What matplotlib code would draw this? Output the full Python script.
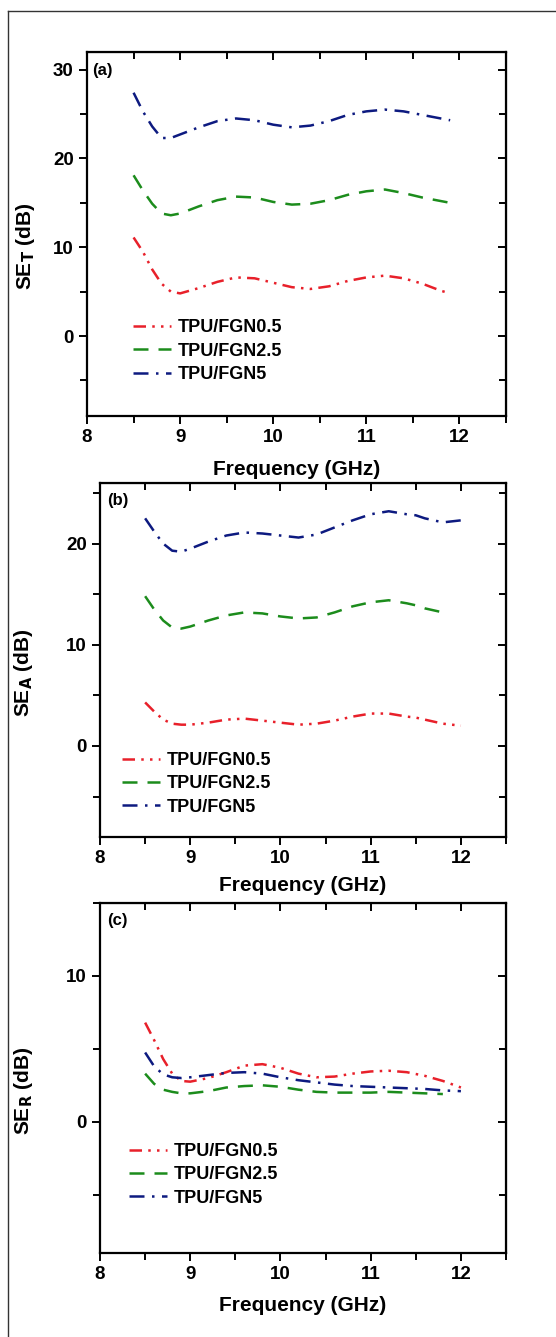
import numpy as np
import matplotlib
matplotlib.use('Agg')
import matplotlib.pyplot as plt
from matplotlib.lines import Line2D
from matplotlib.ticker import MultipleLocator

plt.rcParams['font.family'] = ['Liberation Sans', 'DejaVu Sans']
plt.rcParams['font.weight'] = 'bold'
plt.rcParams['mathtext.default'] = 'bf'

labels = ['TPU/FGN0.5', 'TPU/FGN2.5', 'TPU/FGN5']

# (a) total shielding
freq_a = [8.5, 8.6, 8.7, 8.8, 8.9, 9.0, 9.2, 9.4, 9.6, 9.8, 10.0, 10.2, 10.4,
          10.6, 10.8, 11.0, 11.2, 11.4, 11.6, 11.8, 11.9]
set_05 = [11.1, 9.5, 7.5, 5.9, 5.0, 4.8, 5.4, 6.1, 6.6, 6.5, 6.0, 5.5, 5.3,
          5.6, 6.2, 6.6, 6.8, 6.5, 5.9, 5.1, 4.8]
set_25 = [18.1, 16.4, 14.9, 13.8, 13.6, 13.8, 14.6, 15.3, 15.7, 15.6, 15.1, 14.8, 14.9,
          15.3, 15.9, 16.3, 16.5, 16.1, 15.6, 15.2, 15.0]
set_5 = [27.4, 25.3, 23.6, 22.3, 22.3, 22.7, 23.5, 24.2, 24.5, 24.3, 23.8, 23.5, 23.7,
         24.2, 24.9, 25.3, 25.5, 25.3, 24.9, 24.5, 24.3]

# (b) absorption
freq_b = [8.5, 8.6, 8.7, 8.8, 8.9, 9.0, 9.2, 9.4, 9.6, 9.8, 10.0, 10.2, 10.4,
          10.6, 10.8, 11.0, 11.2, 11.4, 11.5, 11.6, 11.8, 12.0]
sea_05 = [4.3, 3.4, 2.6, 2.2, 2.1, 2.1, 2.3, 2.6, 2.7, 2.5, 2.3, 2.1, 2.2,
          2.5, 2.9, 3.2, 3.2, 2.9, 2.8, 2.6, 2.2, 2.0]
sea_25 = [14.8, 13.5, 12.4, 11.7, 11.6, 11.8, 12.4, 12.9, 13.2, 13.1, 12.8, 12.6, 12.7,
          13.2, 13.8, 14.2, 14.4, 14.1, 13.9, 13.6, 13.2, np.nan]
sea_5 = [22.5, 21.2, 20.0, 19.3, 19.2, 19.5, 20.2, 20.8, 21.1, 21.0, 20.8, 20.6, 20.9,
         21.6, 22.3, 22.9, 23.2, 22.9, 22.8, 22.5, 22.1, 22.3]

# (c) reflection
freq_c = [8.5, 8.6, 8.7, 8.8, 8.9, 9.0, 9.2, 9.4, 9.6, 9.8, 10.0, 10.2, 10.4,
          10.6, 10.8, 11.0, 11.2, 11.4, 11.6, 11.8, 12.0]
ser_05 = [6.8, 5.6, 4.3, 3.3, 2.8, 2.75, 3.0, 3.4, 3.85, 3.95, 3.7, 3.3, 3.05,
          3.1, 3.3, 3.45, 3.5, 3.4, 3.15, 2.8, 2.35]
ser_25 = [3.3, 2.6, 2.2, 2.05, 1.95, 1.95, 2.1, 2.35, 2.45, 2.5, 2.4, 2.2, 2.05,
          2.0, 2.0, 2.0, 2.05, 2.0, 1.95, 1.9, np.nan]
ser_5 = [4.75, 3.8, 3.25, 3.05, 3.0, 3.05, 3.2, 3.35, 3.4, 3.3, 3.05, 2.85, 2.7,
         2.55, 2.45, 2.4, 2.35, 2.3, 2.25, 2.15, 2.1]

colors = ['#e8202a', '#1c8c1c', '#0d1a80']
styles = [(0, (5, 2.5, 1, 2.5, 1, 2.5)), (0, (6, 4)), (0, (6, 3, 1, 3))]

fig = plt.figure(figsize=(5.56, 13.37), dpi=100)

# outer frame (top and left only)
fig.add_artist(Line2D([0.0135, 1.0], [0.992, 0.992], color='#333333', lw=1))
fig.add_artist(Line2D([0.0135, 0.0135], [0.0, 0.992], color='#333333', lw=1))

panels = [
    dict(rect=[0.1565, 0.6889, 0.7536, 0.2723], x=freq_a, ys=[set_05, set_25, set_5],
         ylim=(-9, 32), ylab='SE$_\\mathbf{T}$ (dB)', tag='(a)', tagx=0.012,
         ylx=-0.119, xly=-0.122, leg=(0.093, 0.285)),
    dict(rect=[0.1799, 0.3740, 0.7302, 0.2648], x=freq_b, ys=[sea_05, sea_25, sea_5],
         ylim=(-9, 26), ylab='SE$_\\mathbf{A}$ (dB)', tag='(b)', tagx=0.017,
         ylx=-0.16, xly=-0.11, leg=(0.037, 0.26)),
    dict(rect=[0.1799, 0.0628, 0.7302, 0.2618], x=freq_c, ys=[ser_05, ser_25, ser_5],
         ylim=(-9, 15), ylab='SE$_\\mathbf{R}$ (dB)', tag='(c)', tagx=0.017,
         ylx=-0.16, xly=-0.122, leg=(0.054, 0.335)),
]

for p in panels:
    ax = fig.add_axes(p['rect'])
    ax.set_facecolor('none')
    for y, c, ls, lab in zip(p['ys'], colors, styles, labels):
        ax.plot(p['x'], y, color=c, linestyle=ls, lw=1.8, label=lab)
    ax.set_xlim(8, 12.5)
    ax.set_ylim(*p['ylim'])
    ax.xaxis.set_major_locator(MultipleLocator(1))
    ax.xaxis.set_minor_locator(MultipleLocator(0.5))
    ax.yaxis.set_major_locator(MultipleLocator(10))
    ax.yaxis.set_minor_locator(MultipleLocator(5))
    ax.tick_params(which='both', direction='out', width=1.4, labelsize=13.5)
    ax.tick_params(which='major', length=6)
    ax.tick_params(which='minor', length=5)
    for s in ax.spines.values():
        s.set_linewidth(1.6)

    # mirrored ticks pointing inward on top/right
    top = ax.secondary_xaxis('top')
    top.xaxis.set_major_locator(MultipleLocator(1))
    top.xaxis.set_minor_locator(MultipleLocator(0.5))
    top.tick_params(which='both', direction='in', width=1.4, labeltop=False)
    top.tick_params(which='major', length=6)
    top.tick_params(which='minor', length=5)
    right = ax.secondary_yaxis('right')
    right.yaxis.set_major_locator(MultipleLocator(10))
    right.yaxis.set_minor_locator(MultipleLocator(5))
    right.tick_params(which='both', direction='in', width=1.4, labelright=False)
    right.tick_params(which='major', length=6)
    right.tick_params(which='minor', length=5)

    ax.set_xlabel('Frequency (GHz)', fontsize=15, fontweight='bold')
    ax.set_ylabel(p['ylab'], fontsize=15, fontweight='bold')
    ax.xaxis.set_label_coords(0.5, p['xly'])
    ax.yaxis.set_label_coords(p['ylx'], 0.465)
    ax.text(p['tagx'], 0.95, p['tag'], transform=ax.transAxes, fontsize=12,
            fontweight='bold', va='center', ha='left')
    ax.legend(loc='upper left', bbox_to_anchor=p['leg'], frameon=False,
              fontsize=13, handlelength=2.1, handletextpad=0.35,
              labelspacing=0.35, borderaxespad=0)

fig.savefig('out.png', dpi=100)
